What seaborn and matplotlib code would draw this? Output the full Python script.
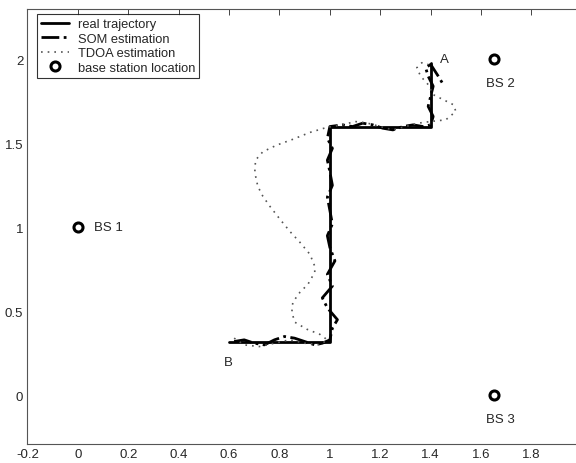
import numpy as np
import pandas as pd
import matplotlib
matplotlib.use("Agg")
import matplotlib.pyplot as plt
import seaborn as sns

# ---- data ----
real_x = [0.60, 1.00, 1.00, 1.40, 1.40]
real_y = [0.32, 0.32, 1.60, 1.60, 1.98]

som_x = [0.62, 0.66, 0.70, 0.74, 0.78, 0.82, 0.86, 0.90, 0.94, 0.97, 1.00,
         1.01, 1.03, 0.99, 0.97, 1.01, 0.99, 1.02, 1.00, 0.99, 1.01, 1.00,
         0.99, 1.01, 1.00, 0.99, 1.01, 0.99, 1.00,
         1.05, 1.09, 1.13, 1.17, 1.21, 1.25, 1.29, 1.33, 1.37, 1.40,
         1.41, 1.39, 1.40, 1.41, 1.39, 1.38, 1.40, 1.43, 1.45]
som_y = [0.32, 0.33, 0.31, 0.30, 0.33, 0.35, 0.34, 0.32, 0.30, 0.31, 0.33,
         0.40, 0.45, 0.52, 0.58, 0.65, 0.72, 0.80, 0.88, 0.95, 1.02, 1.10,
         1.18, 1.25, 1.33, 1.40, 1.47, 1.53, 1.60,
         1.61, 1.60, 1.62, 1.61, 1.59, 1.58, 1.60, 1.61, 1.60, 1.61,
         1.66, 1.72, 1.78, 1.84, 1.90, 1.95, 1.97, 1.90, 1.85]

tdoa_x = [0.62, 0.66, 0.72, 0.78, 0.84, 0.90, 0.96, 0.99,
          0.96, 0.909, 0.861, 0.849, 0.853, 0.881, 0.913, 0.94, 0.94, 0.921,
          0.881, 0.841, 0.802, 0.762, 0.734, 0.714, 0.702, 0.705, 0.734,
          0.79, 0.853, 0.921, 0.988,
          1.05, 1.10, 1.15, 1.20, 1.25, 1.30, 1.35, 1.40,
          1.46, 1.50, 1.49, 1.45, 1.41, 1.39, 1.36, 1.345, 1.365, 1.39]
tdoa_y = [0.34, 0.30, 0.29, 0.31, 0.33, 0.31, 0.30, 0.33,
          0.363, 0.393, 0.435, 0.494, 0.554, 0.613, 0.661, 0.732, 0.768, 0.839,
          0.911, 0.976, 1.048, 1.125, 1.185, 1.244, 1.327, 1.40, 1.45,
          1.49, 1.524, 1.565, 1.595,
          1.61, 1.63, 1.62, 1.60, 1.58, 1.60, 1.62, 1.63,
          1.64, 1.69, 1.73, 1.76, 1.79, 1.85, 1.90, 1.95, 1.98, 1.97]

bs_x = [0.0, 1.65, 1.65]
bs_y = [1.0, 2.0, 0.0]
bs_labels = ["BS 1", "BS 2", "BS 3"]

xticks = [-0.2, 0, 0.2, 0.4, 0.6, 0.8, 1, 1.2, 1.4, 1.6, 1.8]
xticklabels = ["-0.2", "0", "0.2", "0.4", "0.6", "0.8", "1", "1.2", "1.4", "1.6", "1.8"]
yticks = [0, 0.5, 1, 1.5, 2]
yticklabels = ["0", "0.5", "1", "1.5", "2"]

# ---- style ----
sns.set_style("white")
plt.rcParams["font.family"] = ["Liberation Sans", "DejaVu Sans"]

fig = plt.figure(figsize=(5.76, 4.64), dpi=100)
ax = fig.add_axes([0.0477, 0.041, 0.9625, 0.9375])

real_df = pd.DataFrame({"x": real_x, "y": real_y})
som_df = pd.DataFrame({"x": som_x, "y": som_y})
tdoa_df = pd.DataFrame({"x": tdoa_x, "y": tdoa_y})

sns.lineplot(data=real_df, x="x", y="y", sort=False, estimator=None, ax=ax,
             color="black", linewidth=2.0, label="real trajectory")
sns.lineplot(data=som_df, x="x", y="y", sort=False, estimator=None, ax=ax,
             color="black", linewidth=2.0, linestyle="-.", label="SOM estimation")
sns.lineplot(data=tdoa_df, x="x", y="y", sort=False, estimator=None, ax=ax,
             color="#555555", linewidth=1.2, linestyle=(0, (1, 3)),
             label="TDOA estimation")
ax.plot(bs_x, bs_y, linestyle="none", marker="o", markersize=6.5,
        markerfacecolor="white", markeredgecolor="black", markeredgewidth=2.2,
        label="base station location")

ax.text(0.065, 1.0, bs_labels[0], fontsize=9.5, va="center", ha="left")
ax.text(1.675, 1.86, bs_labels[1], fontsize=9.5, va="center", ha="center")
ax.text(1.675, -0.14, bs_labels[2], fontsize=9.5, va="center", ha="center")
ax.text(1.455, 2.0, "A", fontsize=9.5, va="center", ha="center")
ax.text(0.595, 0.20, "B", fontsize=9.5, va="center", ha="center")

ax.set_xlim(-0.2, 2.0)
ax.set_ylim(-0.29, 2.3)
ax.set_xticks(xticks)
ax.set_xticklabels(xticklabels)
ax.set_yticks(yticks)
ax.set_yticklabels(yticklabels)
ax.set_xlabel("")
ax.set_ylabel("")
ax.tick_params(direction="in", top=True, right=False, length=4, width=0.7,
               labelsize=9.5, color="#444444", pad=3)
for s in ["left", "bottom", "top"]:
    ax.spines[s].set_color("#555555")
    ax.spines[s].set_linewidth(0.8)
ax.spines["right"].set_visible(False)

leg = ax.legend(loc="upper left", bbox_to_anchor=(0.017, 0.988), fontsize=9.3,
                frameon=True, fancybox=False, borderpad=0.3, labelspacing=0.2,
                handlelength=2.2, handletextpad=0.7, borderaxespad=0)
leg.get_frame().set_edgecolor("black")
leg.get_frame().set_linewidth(0.8)

fig.savefig("out.png", dpi=100)
